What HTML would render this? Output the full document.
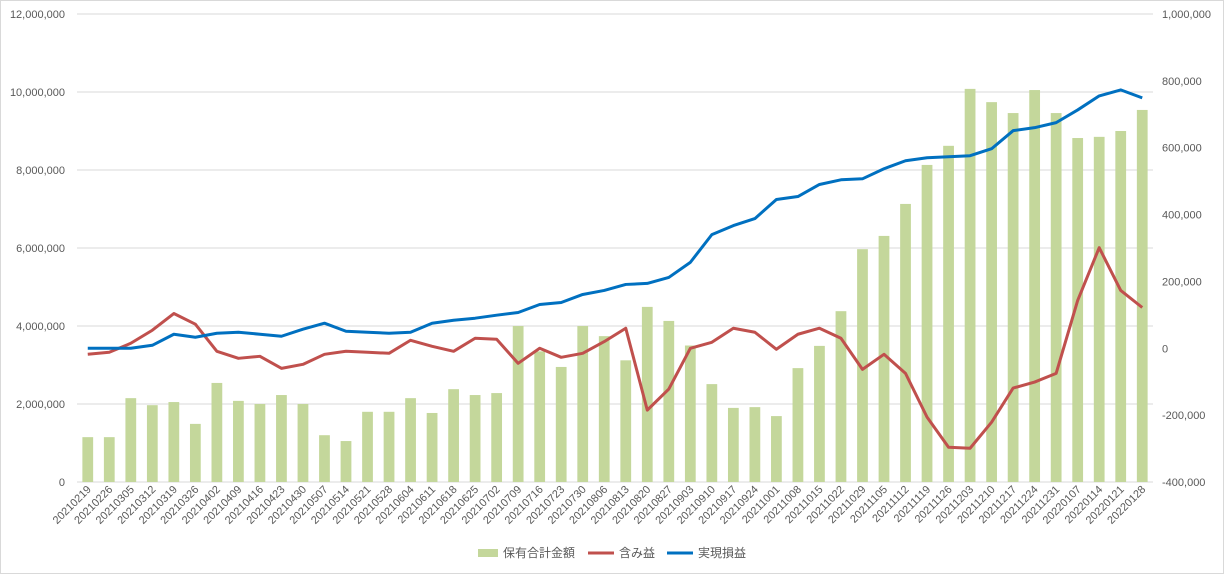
<!DOCTYPE html>
<html><head><meta charset="utf-8"><style>
body{margin:0;background:#fff;}
svg{display:block;font-family:"Liberation Sans","Noto Sans CJK JP",sans-serif;}
</style></head><body>
<svg id="chart" width="1224" height="574" viewBox="0 0 1224 574">
<rect x="0.5" y="0.5" width="1223" height="573" fill="#fff" stroke="#d9d9d9"/>
<g id="grid"></g><g id="bars"></g><g id="lines"></g><g id="axes"></g>
<g font-size="12" fill="#595959">
<rect x="478" y="549" width="20" height="8" fill="#c4d79b"/>
<text x="503" y="557">保有合計金額</text>
<line x1="588" y1="553" x2="614" y2="553" stroke="#c0504d" stroke-width="3"/>
<text x="619" y="557">含み益</text>
<line x1="667" y1="553" x2="693" y2="553" stroke="#0070c0" stroke-width="3"/>
<text x="698" y="557">実現損益</text>
</g>
</svg>
<script>
const categories=["20210219","20210226","20210305","20210312","20210319","20210326","20210402","20210409","20210416","20210423","20210430","20210507","20210514","20210521","20210528","20210604","20210611","20210618","20210625","20210702","20210709","20210716","20210723","20210730","20210806","20210813","20210820","20210827","20210903","20210910","20210917","20210924","20211001","20211008","20211015","20211022","20211029","20211105","20211112","20211119","20211126","20211203","20211210","20211217","20211224","20211231","20220107","20220114","20220121","20220128"];
const holdings=[1150000,1150000,2150000,1970000,2050000,1490000,2540000,2080000,2000000,2230000,2000000,1200000,1050000,1800000,1800000,2150000,1770000,2380000,2230000,2280000,4000000,3350000,2950000,4000000,3740000,3120000,4490000,4130000,3500000,2510000,1900000,1920000,1690000,2920000,3490000,4380000,5970000,6310000,7130000,8130000,8620000,10080000,9740000,9460000,10050000,9460000,8820000,8850000,9000000,9540000];
const unrealized=[-18000,-12000,15000,54000,104000,72000,-9000,-30000,-24000,-60000,-48000,-18000,-9000,-12000,-15000,24000,6000,-9000,30000,27000,-45000,0,-27000,-15000,20000,60000,-185000,-122000,0,18000,60000,48000,-3000,42000,60000,30000,-63000,-18000,-75000,-206000,-296000,-299000,-221000,-119000,-101000,-75000,143000,301000,173000,122000];
const realized=[0,0,0,9000,42000,33000,45000,48000,42000,36000,57000,75000,51000,48000,45000,48000,75000,84000,90000,99000,107000,131000,137000,161000,173000,191000,194000,212000,257000,340000,367000,388000,445000,454000,490000,504000,507000,537000,561000,570000,573000,576000,597000,651000,660000,675000,713000,755000,773000,749000];
const leftTicks=[0,2000000,4000000,6000000,8000000,10000000,12000000];
const rightTicks=[-400000,-200000,0,200000,400000,600000,800000,1000000];

const NS="http://www.w3.org/2000/svg";
const L=77,R=1153,T=14,B=482;
const step=(R-L)/categories.length;
const xC=i=>L+step*(i+0.5);
const yL=v=>B-(v/12000000)*(B-T);
const yR=v=>B-((v+400000)/1400000)*(B-T);
function mk(tag,attrs,parent){const e=document.createElementNS(NS,tag);for(const k in attrs)e.setAttribute(k,attrs[k]);parent.appendChild(e);return e;}
const grid=document.getElementById('grid'),bars=document.getElementById('bars'),lines=document.getElementById('lines'),axes=document.getElementById('axes');
const fmt=v=>v.toLocaleString('en-US');
leftTicks.forEach(v=>{
  const g=mk('line',{x1:L,x2:R,y1:yL(v),y2:yL(v),stroke:'#d9d9d9','stroke-width':1},grid);
  
  
  const t=mk('text',{x:65,y:yL(v)+4,'text-anchor':'end','font-size':11,fill:'#595959'},axes);
  
  
  t.textContent=fmt(v);
});
rightTicks.forEach(v=>{
  const t=mk('text',{x:1162,y:yR(v)+4,'font-size':11,fill:'#595959'},axes);
  
  
  t.textContent=fmt(v);
});
const bw=step*0.5;
holdings.forEach((v,i)=>{
  const b=mk('rect',{x:xC(i)-bw/2,y:yL(v),width:bw,height:B-yL(v),fill:'#c4d79b'},bars);
  
  
});
function line(arr,color,name){
  const p=mk('polyline',{points:arr.map((v,i)=>xC(i)+','+yR(v)).join(' '),fill:'none',stroke:color,'stroke-width':3,'stroke-linejoin':'round'},lines);
  
  
}
line(unrealized,'#c0504d','line-unrealized');
line(realized,'#0070c0','line-realized');
categories.forEach((c,i)=>{
  const x=xC(i)+4,y=490;
  const t=mk('text',{x:x,y:y,'text-anchor':'end','font-size':11,fill:'#595959',transform:`rotate(-45 ${x} ${y})`},axes);
  
  
  t.textContent=c;
});
</script>
</body></html>
